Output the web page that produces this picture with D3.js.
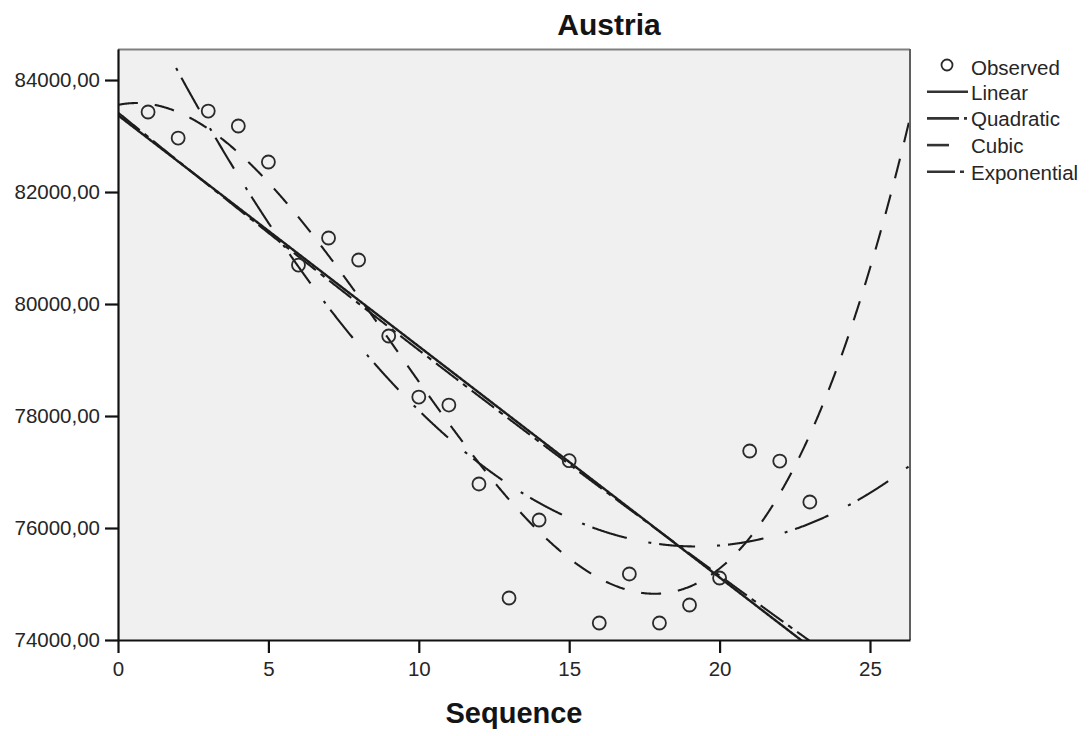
<!DOCTYPE html>
<html>
<head>
<meta charset="utf-8">
<script src="https://cdn.jsdelivr.net/npm/d3@7"></script>
<style>
  html, body { margin: 0; padding: 0; background: #ffffff; }
  svg { display: block; font-family: "Liberation Sans", Arial, sans-serif; }
</style>
</head>
<body>
<svg id="chart" width="1090" height="736"></svg>
<script>
// Observed values by sequence number
const sequence = [1, 2, 3, 4, 5, 6, 7, 8, 9, 10, 11, 12, 13, 14, 15, 16, 17, 18, 19, 20, 21, 22, 23];
const observed = [83429, 82964, 83446, 83179, 82536, 80696, 81179, 80786, 79429, 78339, 78196, 76786,
                  74750, 76143, 77202, 74304, 75179, 74304, 74625, 75107, 77375, 77196, 76464];

// Axis ticks
const xTicks = [0, 5, 10, 15, 20, 25];
const yTicks = [74000, 76000, 78000, 80000, 82000, 84000];

// Fitted models shown in the legend
const modelNames = ["Linear", "Quadratic", "Cubic", "Exponential"];

const W = 1090, H = 736;
const plot = { left: 118, right: 910, top: 49, bottom: 640 };

const svg = d3.select("#chart");

const x = d3.scaleLinear().domain([0, 26.33]).range([plot.left, plot.right]);
const y = d3.scaleLinear().domain([74000, 84554]).range([plot.bottom, plot.top]);

// ---- least-squares polynomial fit (normal equations, Gaussian elimination)
function polyFit(xs, ys, degree) {
  const n = degree + 1;
  const A = Array.from({ length: n }, () => new Array(n + 1).fill(0));
  for (let k = 0; k < xs.length; k++) {
    for (let i = 0; i < n; i++) {
      for (let j = 0; j < n; j++) A[i][j] += Math.pow(xs[k], i + j);
      A[i][n] += ys[k] * Math.pow(xs[k], i);
    }
  }
  for (let c = 0; c < n; c++) {
    let p = c;
    for (let r = c + 1; r < n; r++) if (Math.abs(A[r][c]) > Math.abs(A[p][c])) p = r;
    [A[c], A[p]] = [A[p], A[c]];
    for (let r = 0; r < n; r++) {
      if (r === c) continue;
      const f = A[r][c] / A[c][c];
      for (let j = c; j <= n; j++) A[r][j] -= f * A[c][j];
    }
  }
  const coef = A.map((row, i) => row[n] / row[i]);
  return t => coef.reduce((s, b, i) => s + b * Math.pow(t, i), 0);
}

const linearFn = polyFit(sequence, observed, 1);
const quadFn = polyFit(sequence, observed, 2);
const cubicFn = polyFit(sequence, observed, 3);
const logFit = polyFit(sequence, observed.map(v => Math.log(v)), 1);
const expFn = t => Math.exp(logFit(t));

const models = {
  Linear:      { fn: linearFn, dash: null },
  Quadratic:   { fn: quadFn,   dash: "36,22,3,8" },
  Cubic:       { fn: cubicFn,  dash: "20,17" },
  Exponential: { fn: expFn,    dash: "28,6,5,6" }
};

// ---- plot background
svg.append("rect")
  .attr("x", plot.left).attr("y", plot.top)
  .attr("width", plot.right - plot.left).attr("height", plot.bottom - plot.top)
  .attr("fill", "#f0f0f0");

svg.append("defs").append("clipPath").attr("id", "plotClip")
  .append("rect")
  .attr("x", plot.left).attr("y", plot.top)
  .attr("width", plot.right - plot.left).attr("height", plot.bottom - plot.top);

// ---- fitted curves
const xs = d3.range(0, x.domain()[1] + 0.001, 0.02);
const line = d3.line().x(d => x(d[0])).y(d => y(d[1]));
const curves = svg.append("g").attr("clip-path", "url(#plotClip)");

modelNames.forEach(name => {
  const m = models[name];
  curves.append("path")
    .datum(xs.map(t => [t, m.fn(t)]))
    .attr("d", line)
    .attr("fill", "none")
    .attr("stroke", "#1c1c1c")
    .attr("stroke-width", name === "Linear" ? 2.4 : 2.1)
    .attr("stroke-dasharray", m.dash);
});

// ---- observed points
svg.append("g").selectAll("circle")
  .data(sequence.map((s, i) => [s, observed[i]]))
  .join("circle")
  .attr("cx", d => x(d[0]))
  .attr("cy", d => y(d[1]))
  .attr("r", 6.5)
  .attr("fill", "none")
  .attr("stroke", "#2a2a2a")
  .attr("stroke-width", 1.8);

// ---- frame: top/right grey, left/bottom black axes
svg.append("line").attr("x1", plot.left).attr("x2", plot.right)
  .attr("y1", plot.top + 0.5).attr("y2", plot.top + 0.5)
  .attr("stroke", "#808080").attr("stroke-width", 2);
svg.append("line").attr("x1", plot.right).attr("x2", plot.right)
  .attr("y1", plot.top).attr("y2", plot.bottom)
  .attr("stroke", "#606060").attr("stroke-width", 2);

const fmt = v => d3.format(".2f")(v).replace(".", ",");

const yAxis = svg.append("g")
  .attr("transform", `translate(${plot.left},0)`)
  .call(d3.axisLeft(y).tickValues(yTicks).tickFormat(fmt).tickSize(13).tickPadding(5).tickSizeOuter(0));
const xAxis = svg.append("g")
  .attr("transform", `translate(0,${plot.bottom})`)
  .call(d3.axisBottom(x).tickValues(xTicks).tickSize(13).tickPadding(8).tickSizeOuter(0));

[yAxis, xAxis].forEach(g => {
  g.select(".domain").attr("stroke", "#111").attr("stroke-width", 2.2);
  g.selectAll(".tick line").attr("stroke", "#111").attr("stroke-width", 2.2);
  g.selectAll(".tick text")
    .attr("fill", "#262626")
    .style("font-family", "'Liberation Sans', Arial, sans-serif")
    .style("font-size", "20.5px");
});

// ---- titles
svg.append("text")
  .attr("x", 609).attr("y", 35)
  .attr("text-anchor", "middle")
  .attr("font-weight", "bold")
  .attr("font-size", 30)
  .attr("fill", "#141414")
  .text("Austria");

svg.append("text")
  .attr("x", (plot.left + plot.right) / 2).attr("y", 723)
  .attr("text-anchor", "middle")
  .attr("font-weight", "bold")
  .attr("font-size", 29)
  .attr("fill", "#141414")
  .text("Sequence");

// ---- legend
const legend = svg.append("g");
const legendX = 927, legendTextX = 971, legendY0 = 65, legendStep = 26.7;

legend.append("circle")
  .attr("cx", 947).attr("cy", legendY0)
  .attr("r", 5.5)
  .attr("fill", "none").attr("stroke", "#2a2a2a").attr("stroke-width", 1.8);
legend.append("text")
  .attr("x", legendTextX).attr("y", legendY0 + 10)
  .attr("font-size", 20.5).attr("fill", "#262626")
  .text("Observed");

const legendDash = {
  Linear: null,
  Quadratic: "32,5,3,30",
  Cubic: "22,40",
  Exponential: "28,5,4,20"
};

modelNames.forEach((name, i) => {
  const ly = legendY0 + legendStep * (i + 1);
  legend.append("line")
    .attr("x1", legendX).attr("x2", 968)
    .attr("y1", ly).attr("y2", ly)
    .attr("stroke", "#333").attr("stroke-width", 2.6)
    .attr("stroke-dasharray", legendDash[name]);
  legend.append("text")
    .attr("x", legendTextX).attr("y", ly + 8)
    .attr("font-size", 20.5).attr("fill", "#262626")
    .text(name);
});
</script>
</body>
</html>
